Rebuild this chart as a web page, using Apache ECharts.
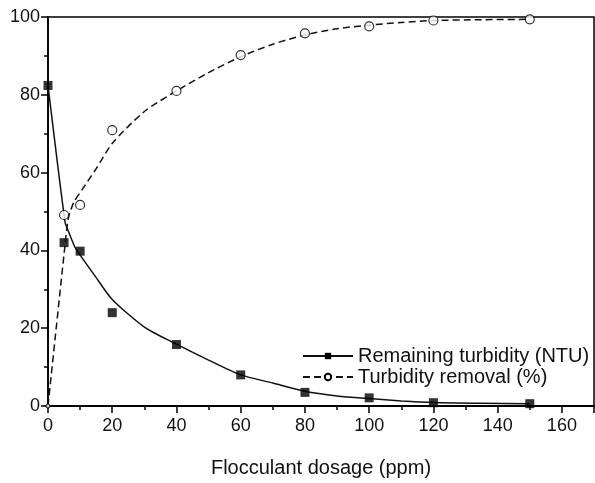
<!DOCTYPE html>
<html>
<head>
<meta charset="utf-8">
<script src="https://cdn.jsdelivr.net/npm/echarts@6/dist/echarts.min.js"></script>
<style>
  html, body { margin: 0; padding: 0; background: #fff; }
  #chart { width: 595px; height: 483px; }
</style>
</head>
<body>
<div id="chart"></div>
<script>
// measured points
const dosage = [0, 5, 10, 20, 40, 60, 80, 100, 120, 150]
const turbidity = [82.4, 42.0, 39.8, 24.0, 15.8, 8.0, 3.5, 2.1, 0.85, 0.6]
const removal = [0, 49.1, 51.7, 70.9, 81.0, 90.2, 95.8, 97.6, 99.1, 99.4]

// fitted curves
const fitTurbX = [0, 5.3, 6.3, 8.4, 10, 15, 20, 30, 40, 50, 60, 70, 80, 90, 100, 110, 120, 135, 150]
const fitTurbY = [82.4, 47.3, 45.0, 40.8, 38.8, 33.0, 27.4, 20.3, 15.9, 11.8, 8.0, 5.9, 3.8, 2.6, 1.9, 1.3, 0.9, 0.7, 0.6]
const fitRemX = [0, 5.1, 6.3, 8, 10.5, 15, 20, 30, 40, 50, 60, 70, 80, 90, 100, 110, 120, 135, 150]
const fitRemY = [0, 39.8, 48.1, 52.3, 55.5, 61.0, 67.5, 75.7, 81.0, 85.7, 89.8, 93.0, 95.4, 97.0, 97.9, 98.6, 99.1, 99.3, 99.4]

const xTicks = { min: 0, max: 170, interval: 20 }
const yTicks = { min: 0, max: 100, interval: 20 }

const font = "'Liberation Sans', Arial, sans-serif"
const ink = '#000'

const zip = (xs, ys) => xs.map((x, i) => [x, ys[i]])

const myChart = echarts.init(document.getElementById('chart'))
let option = {
  animation: false,
  textStyle: { fontFamily: font, color: ink },
  grid: {
    left: 48,
    right: 1,
    top: 17,
    bottom: 62,
    show: true,
    borderColor: ink,
    borderWidth: 1.5,
    containLabel: false
  },
  legend: {
    orient: 'vertical',
    left: 302,
    top: 346,
    padding: 0,
    itemGap: 1,
    itemWidth: 50,
    itemHeight: 8,
    textStyle: { fontSize: 20, color: '#111', fontFamily: font },
    data: ['Remaining turbidity (NTU)', 'Turbidity removal (%)']
  },
  xAxis: {
    type: 'value',
    min: xTicks.min,
    max: xTicks.max,
    interval: xTicks.interval,
    name: 'Flocculant dosage (ppm)',
    nameLocation: 'middle',
    nameGap: 52,
    nameTextStyle: { fontSize: 20, color: '#111', fontFamily: font },
    axisLine: { lineStyle: { color: ink, width: 1.8 } },
    axisTick: { show: true, inside: false, length: 7, lineStyle: { color: ink, width: 1.5 } },
    minorTick: { show: true, splitNumber: 2, length: 4, lineStyle: { color: ink, width: 1.5 } },
    axisLabel: { fontSize: 18, color: '#111', margin: 11, fontFamily: font, showMaxLabel: false },
    splitLine: { show: false }
  },
  yAxis: {
    type: 'value',
    min: yTicks.min,
    max: yTicks.max,
    interval: yTicks.interval,
    axisLine: { show: true, lineStyle: { color: ink, width: 1.8 } },
    axisTick: { show: true, inside: false, length: 7, lineStyle: { color: ink, width: 1.5 } },
    minorTick: { show: true, splitNumber: 2, length: 4, lineStyle: { color: ink, width: 1.5 } },
    axisLabel: { fontSize: 18, color: '#111', margin: 8, fontFamily: font },
    splitLine: { show: false }
  },
  series: [
    {
      name: 'Remaining turbidity (NTU)',
      type: 'line',
      data: zip(fitTurbX, fitTurbY),
      smooth: 0.25,
      symbol: 'rect',
      showSymbol: false,
      lineStyle: { color: '#111', width: 1.5 },
      itemStyle: { color: ink },
      z: 3
    },
    {
      name: 'Turbidity removal (%)',
      type: 'line',
      data: zip(fitRemX, fitRemY),
      smooth: 0.25,
      symbol: 'circle',
      showSymbol: false,
      lineStyle: { color: '#111', width: 1.5, type: [7, 4] },
      itemStyle: { color: '#fff', borderColor: ink, borderWidth: 1 },
      z: 3
    },
    {
      name: 'turbidity points',
      type: 'scatter',
      data: zip(dosage, turbidity),
      symbol: 'rect',
      symbolSize: 9,
      itemStyle: { color: ink },
      z: 4
    },
    {
      name: 'removal points',
      type: 'scatter',
      data: zip(dosage, removal),
      symbol: 'circle',
      symbolSize: (val) => (val[0] === 0 ? 4 : 9),
      itemStyle: { color: '#fff', borderColor: ink, borderWidth: 1.2 },
      z: 5
    }
  ]
}
myChart.setOption(option)
</script>
</body>
</html>
